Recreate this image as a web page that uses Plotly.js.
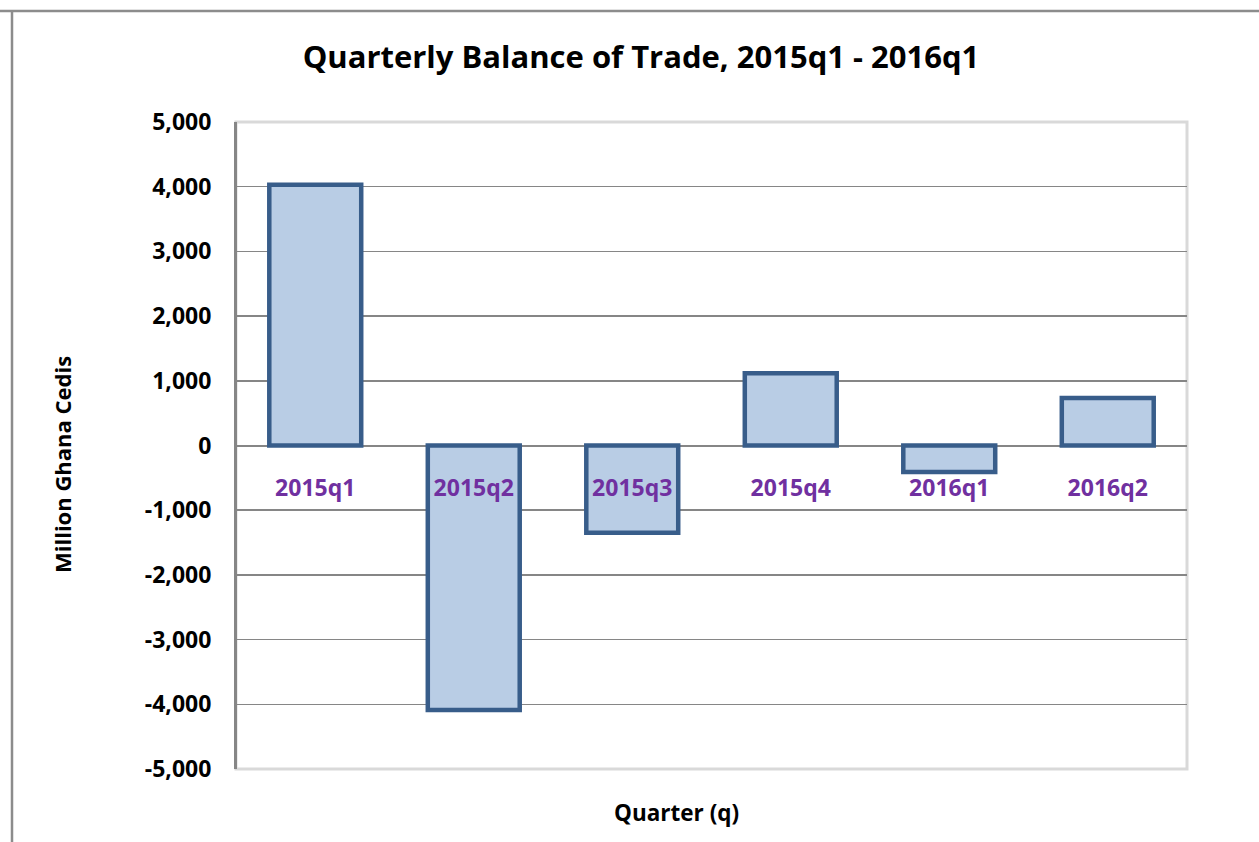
<!DOCTYPE html>
<html>
<head>
<meta charset="utf-8">
<script src="https://cdn.plot.ly/plotly-3.0.1.min.js"></script>
<style>
html,body{margin:0;padding:0;background:#fff;}
#chart{width:1259px;height:842px;}
</style>
</head>
<body>
<div id="chart"></div>
<script>
var quarters = ["2015q1", "2015q2", "2015q3", "2015q4", "2016q1", "2016q2"];
var balance = [4030, -4090, -1350, 1115, -410, 735];
var yTickVals = [-5000, -4000, -3000, -2000, -1000, 0, 1000, 2000, 3000, 4000, 5000];
var yTickText = ["-5,000", "-4,000", "-3,000", "-2,000", "-1,000", "0", "1,000", "2,000", "3,000", "4,000", "5,000"];

var FONT = "'Open Sans', sans-serif";

var trace = {
  type: "bar",
  x: quarters,
  y: balance,
  width: 0.58,
  marker: {color: "#b9cde5", line: {color: "#385d8a", width: 4.5}},
  hoverinfo: "x+y"
};

var layout = {
  width: 1259,
  height: 842,
  paper_bgcolor: "#ffffff",
  plot_bgcolor: "#ffffff",
  margin: {l: 236, r: 72, t: 122, b: 73},
  showlegend: false,
  font: {family: FONT, color: "#000"},
  title: {
    text: "<b>Quarterly Balance of Trade, 2015q1 - 2016q1</b>",
    font: {family: FONT, size: 31, color: "#000"},
    x: 641 / 1259, xref: "container", xanchor: "center",
    y: 1 - 57 / 842, yref: "container", yanchor: "middle"
  },
  xaxis: {
    type: "category",
    anchor: "free",
    position: 0.5,
    showline: false,
    showgrid: false,
    zeroline: false,
    ticks: "",
    ticklabelstandoff: 26,
    tickfont: {family: FONT, size: 23, color: "#7030a0", weight: "bold"},
    fixedrange: true
  },
  yaxis: {
    range: [-5000, 5000],
    tickvals: yTickVals,
    ticktext: yTickText,
    tickfont: {family: FONT, size: 23, color: "#000", weight: "bold"},
    ticklabelstandoff: 18,
    showgrid: true,
    gridcolor: "#868686",
    gridwidth: 1.5,
    zeroline: true,
    zerolinecolor: "#868686",
    zerolinewidth: 2,
    showline: true,
    linecolor: "#868686",
    linewidth: 2,
    ticks: "",
    fixedrange: true
  },
  shapes: [
    {type: "rect", xref: "paper", yref: "paper", x0: 0, x1: 1, y0: 0, y1: 1,
     line: {color: "#d9d9d9", width: 3}, layer: "below"},
    {type: "line", xref: "paper", yref: "paper", x0: 0, x1: 0, y0: 0, y1: 1,
     line: {color: "#868686", width: 2}, layer: "above"},
    {type: "line", xref: "paper", yref: "paper", x0: -236 / 951, x1: 1 + 72 / 951, y0: 1 + 111 / 647, y1: 1 + 111 / 647,
     line: {color: "#8c8c8c", width: 2.5}},
    {type: "line", xref: "paper", yref: "paper", x0: -224 / 951, x1: -224 / 951, y0: -73 / 647, y1: 1 + 112 / 647,
     line: {color: "#8c8c8c", width: 2.5}}
  ],
  annotations: [
    {text: "<b>Million Ghana Cedis</b>", xref: "paper", yref: "paper",
     x: (62 - 236) / 951, y: (769 - 465) / 647, xanchor: "center", yanchor: "middle",
     textangle: -90, showarrow: false, font: {family: FONT, size: 22, color: "#000"}},
    {text: "<b>Quarter (q)</b>", xref: "paper", yref: "paper",
     x: (676 - 236) / 951, y: (769 - 812) / 647, xanchor: "center", yanchor: "middle",
     showarrow: false, font: {family: FONT, size: 22.5, color: "#000"}}
  ]
};

Plotly.newPlot("chart", [trace], layout, {displayModeBar: false, staticPlot: true});
</script>
</body>
</html>
